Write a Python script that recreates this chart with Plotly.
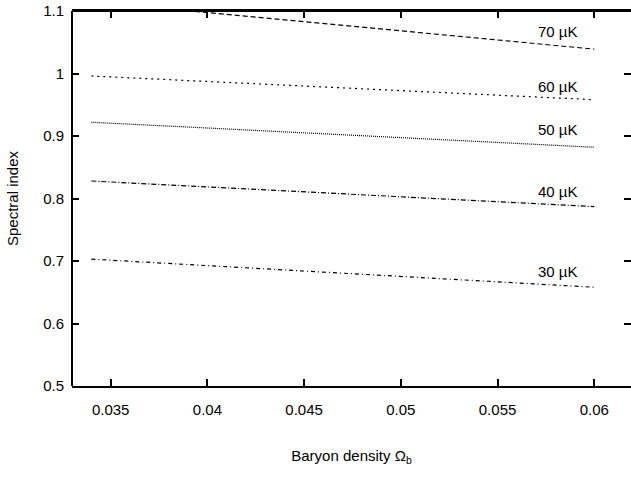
import plotly.graph_objects as go

omega_b = [0.034, 0.06]
labels = ["70 µK", "60 µK", "50 µK", "40 µK", "30 µK"]
n_70 = [1.115, 1.039]
n_60 = [0.996, 0.958]
n_50 = [0.922, 0.882]
n_40 = [0.828, 0.787]
n_30 = [0.703, 0.658]
label_y = [1.068, 0.980, 0.910, 0.812, 0.683]
label_x = 0.0581
series = [n_70, n_60, n_50, n_40, n_30]
dashes = ["5px,3px", "2px,4px", "1px,1px", "5px,2px,1px,2px", "4px,3px,1px,3px"]

fig = go.Figure()
for s, d in zip(series, dashes):
    fig.add_trace(go.Scatter(x=omega_b, y=s, mode="lines",
                             line=dict(color="black", width=1.2, dash=d),
                             showlegend=False, hoverinfo="skip"))
for lab, ly in zip(labels, label_y):
    fig.add_annotation(x=label_x, y=ly, text=lab, showarrow=False,
                       font=dict(size=15, color="black"))

# left and top frame lines (no right line visible in the reference)
fig.add_shape(type="line", xref="paper", yref="paper", x0=0, x1=0, y0=0, y1=1,
              line=dict(color="black", width=2), layer="above")
fig.add_shape(type="line", xref="paper", yref="paper", x0=0, x1=1, y0=1, y1=1,
              line=dict(color="black", width=2), layer="above")

fig.update_layout(
    width=631, height=493,
    margin=dict(l=72, r=0, t=11, b=107),
    plot_bgcolor="white", paper_bgcolor="white",
    font=dict(family="Liberation Sans, Arial, sans-serif", size=15, color="black"),
    xaxis=dict(range=[0.033, 0.0619], tickvals=[0.035, 0.04, 0.045, 0.05, 0.055, 0.06],
               ticktext=["0.035", "0.04", "0.045", "0.05", "0.055", "0.06"],
               ticks="inside", ticklen=7, tickwidth=2, tickcolor="black",
               showline=True, linewidth=2, linecolor="black", mirror="ticks",
               showgrid=False, zeroline=False, ticklabelstandoff=9, automargin=False,
               ticklabeloverflow="allow",
               title=dict(text="Baryon density Ω<sub>b</sub>", standoff=33,
                          font=dict(size=15))),
    yaxis=dict(range=[0.5, 1.1], tickvals=[0.5, 0.6, 0.7, 0.8, 0.9, 1.0, 1.1],
               ticktext=["0.5", "0.6", "0.7", "0.8", "0.9", "1", "1.1"],
               ticks="inside", ticklen=7, tickwidth=2, tickcolor="black",
               showline=False, mirror="ticks", automargin=False,
               ticklabeloverflow="allow",
               showgrid=False, zeroline=False, ticklabelstandoff=7,
               title=dict(text="Spectral index", standoff=20, font=dict(size=15))),
)

fig.write_html("out.html", config={"displayModeBar": False},
               post_script="document.body.style.margin='0';document.body.style.overflow='hidden';")
